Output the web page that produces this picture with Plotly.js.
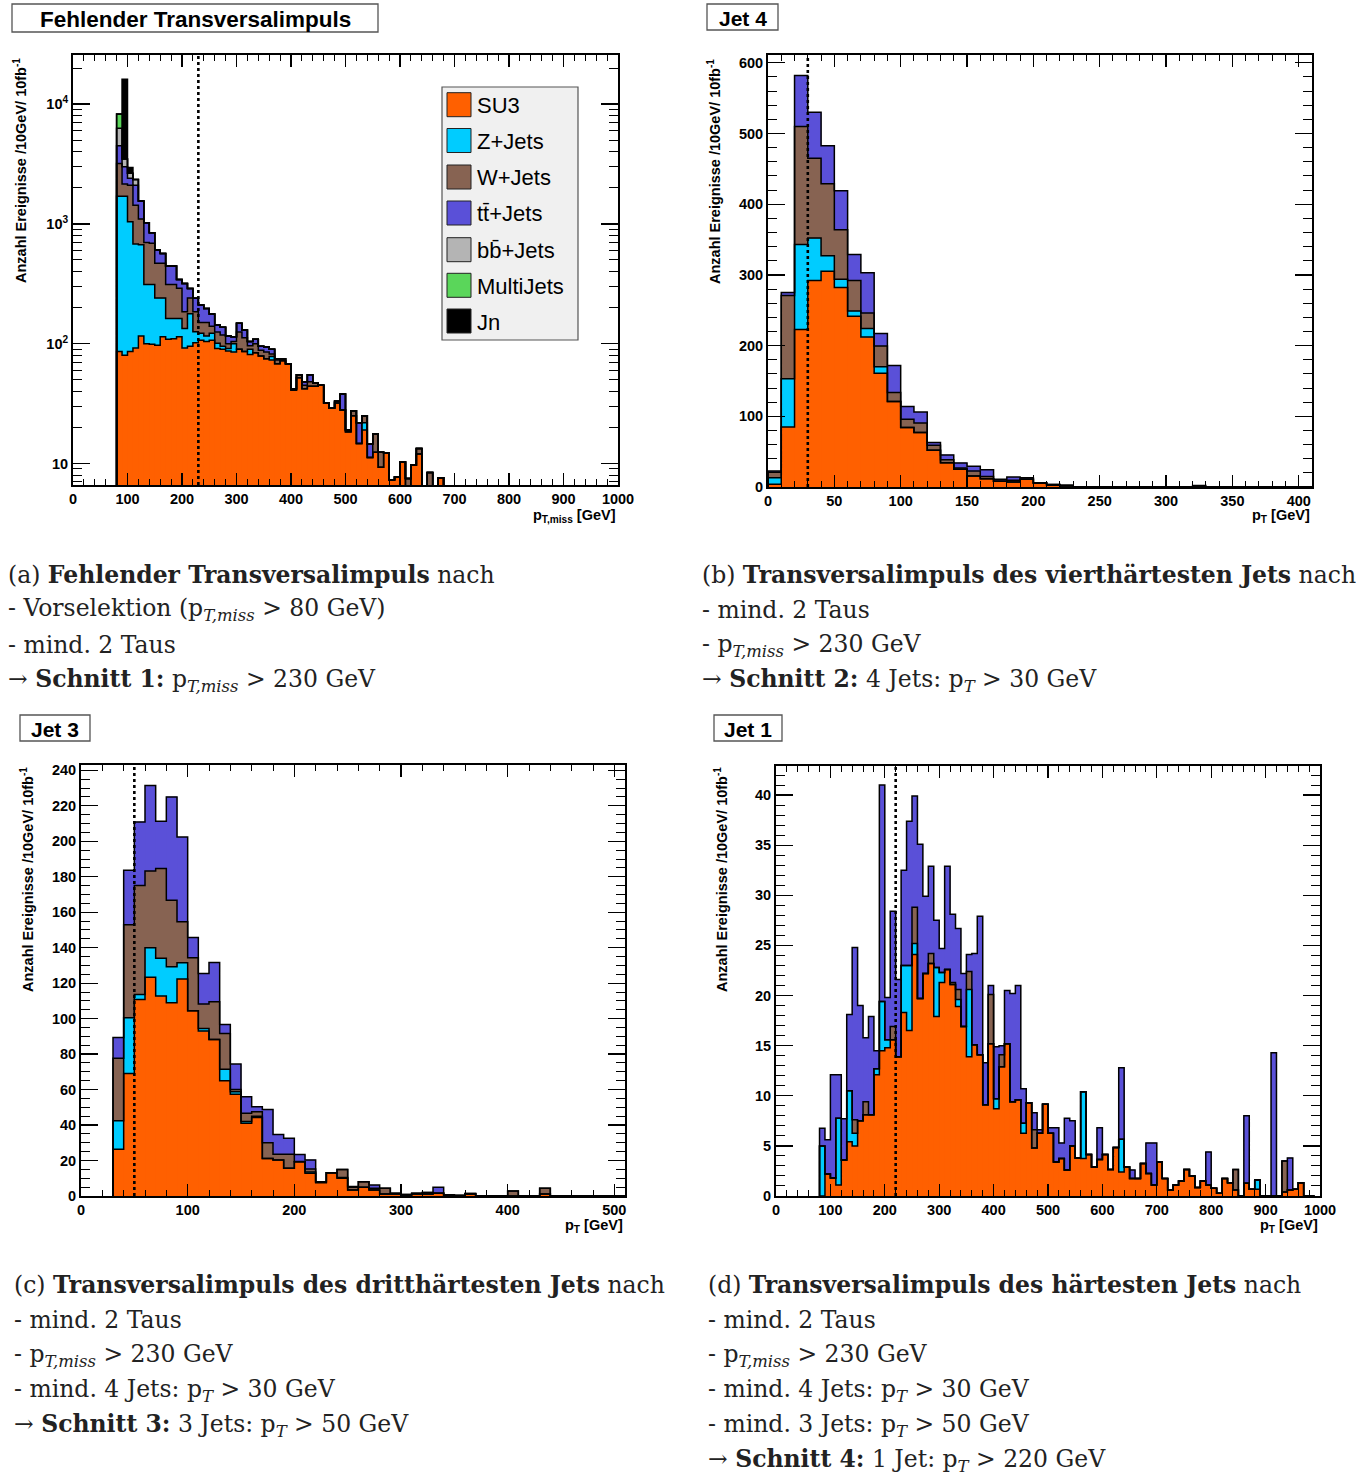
<!DOCTYPE html>
<html><head><meta charset="utf-8">
<script src="https://cdn.plot.ly/plotly-3.0.1.min.js"></script>
<style>html,body{margin:0;padding:0;background:#fff}#chart{width:1368px;height:1475px}</style>
</head><body><div id="chart"></div>
<script>
// ---------- samples ----------
const sampleNames  = ['SU3','Z+Jets','W+Jets','tt\u0304+Jets','bb\u0304+Jets','MultiJets','Jn'];
const sampleColors = ['#ff6000','#00ccff','#876352','#5a50d8','#b4b4b4','#5ad65a','#000000'];

// ---------- (a) missing pT, bins of 10 GeV starting at 80 GeV ----------
const aFirstBin = 80, aBinWidth = 10;
const aSU3 = [86,80,86,92,116,100,99,97,114,109,110,114,92,95,102,107,104,107,91,90,87,85,90,86,81,84,79,75,73,68,72,68,41,52,42,44,44,45,32,29,32,28,18.4,25,14.7,19,11.2,12.4,9.3,12.2,7.3,7.7,10.3,0,9.7,12,0,0,0,7.6];
const aZJ  = [1614,1620,954,588,554,212,213,143,126,53,52,48,42,83,24,15,12,15,10,5,4,15,0,0,9,0,0,0,5,0,0,0,0,0,0,0,0,0,0,0,0,0,0,0,0,2.9,0,0,0,0,0,0,0,0,0,0,0,0,0,0];
const aWJ  = [1500,450,1060,750,430,388,378,230,230,150,150,128,51,62,59,28,34,18,24,23,9,4,35,26,6,16,9,10,4,5,2,0,0,3,3,4,3,0,0,0,1,0,0,2.5,0,3.1,0,5.2,3.1,0,0,0,0,7.5,0,1.3,0,8.4,0,0];
const aTT  = [1300,850,300,670,450,320,153,134,97,132,132,54,133,49,54,60,47,37,18,19,16,10,23,18,8,9,7,9,8,2,1,0,1,0,3,7,0,0,0,0,0,10,0.6,0,7.2,0,3.3,0,0,0,0,0,0,0,0,0,0,0,0,0];
const aBB  = [1800,480,250,250,0,0,0,0,0,0,0,0,0,0,0,0,0,0,0,0,0,0,0,0,0,0,0,0,0,0,0,0,0,0,0,0,0,0,0,0,0,0,0,0,0,0,0,0,0,0,0,0,0,0,0,0,0,0,0,0];
const aMJ  = [1960,0,0,0,0,0,0,0,0,0,0,0,0,0,0,0,0,0,0,0,0,0,0,0,0,0,0,0,0,0,0,0,0,0,0,0,0,0,0,0,0,0,0,0,0,0,0,0,0,0,0,0,0,0,0,0,0,0,0,0];
const aJn  = [0,12670,300,0,0,0,0,0,0,0,0,0,0,0,0,0,0,0,0,0,0,0,0,0,0,0,0,0,0,0,0,0,0,0,0,0,0,0,0,0,0,0,0,0,0,0,0,0,0,0,0,0,0,0,0,0,0,0,0,0];
const aCut = 230;

// ---------- (b) Jet 4 pT, bins from 0 GeV ----------
const bFirstBin = 0, bBinWidth = 10;
const bSU3 = [3.8,85,222.6,292,305,282,241.5,212,161,121,84,77,52,34.4,25,15.6,11.8,8,7,10.8,5.7,2.5,0,0,0,0,0,0,0,0,0,0,0,0,0,0,0,0,0,0,0];
const bZJ  = [9.2,68,120.4,60,22,12,7.5,12,9,0,0,0,0,0,0,0,0,0,0,0,0,0,0,0,0,0,0,0,0,0,0,0,0,0,0,0,0,0,0,0,0];
const bWJ  = [7.8,118,167,113,102,70,43,22,29.5,12.5,11.8,13.6,7,4.3,2,7,3.2,0,2.4,0,0,1,2.5,0,0,0,0,0,0,0,0,0,0,0,0,0,0,0,0,0,0];
const bTT  = [1.8,4,72,65,53.5,55,37,57,17.5,38.2,18.2,15.4,4,6.6,7,6.6,9.5,2.8,4.6,2.2,0,0,0,0,0,0,0,0,0,0,0,0,2.2,0,0,0,0,0,0,0,0];
const bCut = 30;

// ---------- (c) Jet 3 pT, bins from 30 GeV ----------
const cFirstBin = 30, cBinWidth = 10;
const cSU3 = [26.3,69,110.8,123.4,112.7,109,122.4,104.4,93,88.3,65,57.3,41,44.3,21.2,20.3,15.6,19.3,12.8,7.5,13.1,10,3.4,4.9,3.4,1.1,1.1,0.5,1.1,1.1,1.5,0.5,0.3,1.1,0,0,0,0,0,0,1.1,0,0,0,0,0,0,0];
const cZJ  = [16.1,31.5,2.8,16.6,21.3,20.2,9.1,0,1.5,0,6.4,1.5,1,0.7,0,0,0,0,0.8,0.5,0,0.5,0,0,0,0,0,0,0,0,0,0,0,0,0,0,0,0,0,0,0,0,0,0,0,0,0,0];
const cWJ  = [35.2,52.5,61.4,43.3,50.6,37.6,23.1,29.9,13.7,21.2,20.2,1.2,4.6,2.5,8.8,3.2,7.9,0.2,1.6,0,0,4.5,1.5,3.2,0.9,3.2,0.4,0.3,0.4,0.9,0,0,0,0.3,0,0,0,2.8,0,0,3.2,0,0,0,0,0,0,0];
const cTT  = [11.8,30.7,35.9,48.1,26.7,58.2,47.8,11.4,17.2,22.1,5.1,14.4,9.4,2.8,18.8,11.2,9,3.9,5.1,0,0,0,0.4,0,1.9,0,0,0,0,0,3.4,0,0,0,0,0,0,0,0,0,0,0,0,0,0,0,0,0];
const cCut = 50;

// ---------- (d) Jet 1 pT, bins from 80 GeV ----------
const dFirstBin = 80, dBinWidth = 10;
const dSU3 = [0,2.2,1.8,1.1,3.6,5.4,5.0,7.5,8.1,8.1,
  12.1,14.5,14.8,15.6,13.9,18.3,16.5,24.1,19.7,22.2,
  23.2,17.9,21.3,22.6,21.1,18.9,16.9,13.9,15.1,14.1,
  9.1,15.2,8.7,12.9,15.2,9.4,9.6,6.25,9.3,4.8,
  6.25,9.15,6.25,3.4,3.75,2.6,5.0,3.8,3.75,4.15,
  2.9,3.65,4.15,2.65,4.85,2.4,2.9,1.75,1.75,3.25,
  2.25,1.1,3.4,1.75,0.6,1.1,1.5,2.65,2.0,0.86,
  1.5,1.1,0.77,0.27,1.75,1.33,0.6,0,1.26,0.67,
  0.67,0,0,0,0,0.4,0.6,0.67,1.33,0,0];
const dZJ = [5.0,0,0,6.65,0,5.1,1.25,0,0,0,
  0.6,4.9,0.8,0,0,4.7,6.5,1.1,0,0,
  0,4.9,1.0,0,0,0.7,0,6.7,0,0,
  0,0,1.0,0,0,0,0,1.0,0,0,
  0,0,0,0,0,0,0,0,6.65,0,
  0,0,0,0,0,3.25,0,0,0,0,
  0,0,0,0,0,0,0,0,0,0,
  0,0,0,0,0,0,0,0,0,0,
  0.93,0,0,0,0,0,0,0,0,0,0];
const dWJ = [0,0,0,0,0,0,1.35,0,1.3,0,
  0,0,0,1.3,0,0,0,3.6,0,0,
  1.0,0,0,0,0.2,1.0,0,1.8,0,0,
  0,4.9,0,1.2,0,0,0,0,0,1.8,
  0,0,0,0,0,0,0,0,0,0,
  0,0,0,0,0,0,0,0,0,0,
  0,0,0,0,0,0,0,0,0,0,
  0,0,0,0,0,0,2.05,0,0,0,
  0,0,0,0,0,3.1,0,0,0,0,0];
const dTT = [1.75,3.4,10.3,4.35,4.1,7.6,17.2,11.5,6.4,9.8,
  1.8,21.6,4.2,11.5,7.7,9.5,14.4,11.1,15.4,7.7,
  8.7,4.7,2.4,10.3,6.8,6.1,5.3,1.7,9.1,13.8,
  4.2,0.9,5.2,0.9,5.3,10.8,11.4,3.45,0,1.7,
  0.35,0,0.55,3.4,1.55,5.15,2.5,0,0,0,
  0,3.15,0,0,0,7.15,0,0.85,0,0,
  3.05,4.2,0,0,0,0,0,0,0,0,
  0,3.3,0,0,0,0,0,0,6.74,0,
  0,0,0,14.3,0,0,3.2,0,0,0,0];
const dCut = 220;

// ---------- texts ----------
const panelTitles = ['Fehlender Transversalimpuls','Jet 4','Jet 3','Jet 1'];
const yTitle = 'Anzahl Ereignisse /10GeV/ 10fb<sup>-1</sup>';
const xTitles = ['p<sub>T,miss</sub> [GeV]','p<sub>T</sub> [GeV]','p<sub>T</sub> [GeV]','p<sub>T</sub> [GeV]'];
const logTickVals = [10,100,1000,10000];
const logTickText = ['10','10<sup>2</sup>','10<sup>3</sup>','10<sup>4</sup>'];
const capA = ['(a) <b>Fehlender Transversalimpuls</b> nach',
  '- Vorselektion (p<sub><i>T,miss</i></sub> &gt; 80 GeV)',
  '- mind. 2 Taus',
  '\u2192 <b>Schnitt 1:</b> p<sub><i>T,miss</i></sub> &gt; 230 GeV'];
const capB = ['(b) <b>Transversalimpuls des vierthärtesten Jets</b> nach',
  '- mind. 2 Taus',
  '- p<sub><i>T,miss</i></sub> &gt; 230 GeV',
  '\u2192 <b>Schnitt 2:</b> 4 Jets: p<sub><i>T</i></sub> &gt; 30 GeV'];
const capC = ['(c) <b>Transversalimpuls des dritthärtesten Jets</b> nach',
  '- mind. 2 Taus',
  '- p<sub><i>T,miss</i></sub> &gt; 230 GeV',
  '- mind. 4 Jets: p<sub><i>T</i></sub> &gt; 30 GeV',
  '\u2192 <b>Schnitt 3:</b> 3 Jets: p<sub><i>T</i></sub> &gt; 50 GeV'];
const capD = ['(d) <b>Transversalimpuls des härtesten Jets</b> nach',
  '- mind. 2 Taus',
  '- p<sub><i>T,miss</i></sub> &gt; 230 GeV',
  '- mind. 4 Jets: p<sub><i>T</i></sub> &gt; 30 GeV',
  '- mind. 3 Jets: p<sub><i>T</i></sub> &gt; 50 GeV',
  '\u2192 <b>Schnitt 4:</b> 1 Jet: p<sub><i>T</i></sub> &gt; 220 GeV'];

// ---------- helpers ----------
const W = 1368, H = 1475;
const px = v => v / W;
const py = v => 1 - v / H;
const SANS = 'Liberation Sans, Arial, Helvetica, sans-serif';
const SERIF = 'DejaVu Serif, Liberation Serif, serif';

const traces = [];
function addPanel(xa, ya, first, width, comps, floorVal) {
  const n = comps[0].length;
  const centers = [], edges = [];
  for (let i = 0; i <= n; i++) edges.push(first + width * i);
  for (let i = 0; i < n; i++) centers.push(first + width * (i + 0.5));
  let cum = new Array(n).fill(0);
  const cums = [];
  comps.forEach((vals, k) => {
    traces.push({type:'bar', x:centers, y:vals, width:width, xaxis:xa, yaxis:ya,
      name:sampleNames[k], showlegend:false, hoverinfo:'skip',
      marker:{color:sampleColors[k], line:{color:sampleColors[k], width:0.4}}});
    cum = cum.map((c, i) => c + vals[i]);
    cums.push(cum.slice());
  });
  cums.forEach(c => {
    const xs = [edges[0]], ys = [floorVal];
    for (let i = 0; i < n; i++) { xs.push(edges[i]); ys.push(c[i] > 0 ? c[i] : floorVal); }
    xs.push(edges[n]); ys.push(c[n-1] > 0 ? c[n-1] : floorVal);
    xs.push(edges[n]); ys.push(floorVal);
    traces.push({type:'scatter', mode:'lines', x:xs, y:ys, xaxis:xa, yaxis:ya,
      showlegend:false, hoverinfo:'skip', line:{shape:'hv', color:'#000', width:1.5}});
  });
}
addPanel('x','y', aFirstBin, aBinWidth, [aSU3,aZJ,aWJ,aTT,aBB,aMJ,aJn], 1);
addPanel('x2','y2', bFirstBin, bBinWidth, [bSU3,bZJ,bWJ,bTT], 0);
addPanel('x3','y3', cFirstBin, cBinWidth, [cSU3,cZJ,cWJ,cTT], 0);
addPanel('x4','y4', dFirstBin, dBinWidth, [dSU3,dZJ,dWJ,dTT], 0);

const tickFont = {family:SANS, size:14.5, color:'#000', weight:'bold'};
function xAxis(x0, x1, y, range, dtick, minor, anchor) {
  return {domain:[px(x0), px(x1)], anchor:anchor, range:range, tickmode:'linear', tick0:0, dtick:dtick,
    ticks:'inside', ticklen:12, tickwidth:1.3, tickcolor:'#000',
    minor:{dtick:minor, tick0:0, ticks:'inside', ticklen:6, tickwidth:1, tickcolor:'#000', showgrid:false},
    showline:true, linecolor:'#000', linewidth:2, mirror:'ticks', showgrid:false, zeroline:false,
    tickfont:tickFont, fixedrange:true};
}
function yAxis(y0, y1, range, dtick, minor, anchor) {
  return {domain:[py(y1), py(y0)], anchor:anchor, range:range, tickmode:'linear', tick0:0, dtick:dtick,
    ticks:'inside', ticklen:17, tickwidth:1.3, tickcolor:'#000',
    minor:{dtick:minor, tick0:0, ticks:'inside', ticklen:9, tickwidth:1, tickcolor:'#000', showgrid:false},
    showline:true, linecolor:'#000', linewidth:2, mirror:'ticks', showgrid:false, zeroline:false,
    tickfont:tickFont, fixedrange:true};
}
const minorLog = [];
[1,10,100,1000,10000].forEach(d => [2,3,4,5,6,7,8,9].forEach(m => minorLog.push(m*d)));

const layout = {
  width:W, height:H, margin:{l:0,r:0,t:0,b:0}, paper_bgcolor:'#fff', plot_bgcolor:'#fff',
  barmode:'stack', bargap:0, showlegend:false, font:{family:SANS, color:'#000'},
  xaxis: xAxis(73,618,0,[0,1000],100,20,'y'),
  yaxis: Object.assign(yAxis(55,485,[0.82,4.41],1,1,'x'), {type:'log', tickmode:'array',
    tickvals:logTickVals, ticktext:logTickText,
    minor:{tickmode:'array', tickvals:minorLog, ticks:'inside', ticklen:9, tickwidth:1, tickcolor:'#000', showgrid:false}}),
  xaxis2: xAxis(768,1312,0,[0,410],50,10,'y2'),
  yaxis2: yAxis(55,487,[0,611],100,20,'x2'),
  xaxis3: xAxis(81,625,0,[0,510],100,20,'y3'),
  yaxis3: yAxis(765,1196,[0,243],20,5,'x3'),
  xaxis4: xAxis(776,1320,0,[0,1000],100,20,'y4'),
  yaxis4: yAxis(766,1196,[0,42.9],5,1,'x4'),
  shapes:[], annotations:[]
};

// cut lines
[['x','y',aCut],['x2','y2',bCut],['x3','y3',cCut],['x4','y4',dCut]].forEach(([xr,yr,c]) => {
  layout.shapes.push({type:'line', xref:xr, yref:yr+' domain', x0:c, x1:c, y0:0, y1:1,
    line:{color:'#000', width:2.6, dash:'dot'}});
});

// title boxes
const titleBoxes = [[12,4,378,32],[707,4,778,30],[20,715,90,741],[714,715,782,741]];
titleBoxes.forEach((b, i) => {
  layout.shapes.push({type:'rect', xref:'paper', yref:'paper', x0:px(b[0]), x1:px(b[2]), y0:py(b[3]), y1:py(b[1]),
    line:{color:'#555', width:1.3}, fillcolor:'#fff', layer:'above'});
  layout.annotations.push({xref:'paper', yref:'paper', x:px((b[0]+b[2])/2), y:py((b[1]+b[3])/2+1),
    xanchor:'center', yanchor:'middle', showarrow:false, text:panelTitles[i],
    font:{family:SANS, size:(i === 0 ? 22.5 : 21), color:'#000', weight:'bold'}});
});

// y titles
[[20,171],[714,171],[27,880],[721,880]].forEach(p => {
  layout.annotations.push({xref:'paper', yref:'paper', x:px(p[0]), y:py(p[1]), xanchor:'center', yanchor:'middle',
    textangle:-90, showarrow:false, text:yTitle, font:{family:SANS, size:14.5, color:'#000', weight:'bold'}});
});
// x titles
[[618,516],[1312,516],[625,1226],[1320,1226]].forEach((p, i) => {
  layout.annotations.push({xref:'paper', yref:'paper', x:px(p[0]), y:py(p[1]), xanchor:'right', yanchor:'middle',
    showarrow:false, text:xTitles[i], font:{family:SANS, size:14.5, color:'#000', weight:'bold'}});
});

// legend (panel a)
layout.shapes.push({type:'rect', xref:'paper', yref:'paper', x0:px(442), x1:px(578), y0:py(340), y1:py(87),
  line:{color:'#555', width:1.2}, fillcolor:'#f0f0f0', layer:'above'});
const legRows = [104.7,140.5,177,213,249.7,285.3,321];
sampleNames.forEach((nm, k) => {
  const cy = legRows[k];
  layout.shapes.push({type:'rect', xref:'paper', yref:'paper', x0:px(447), x1:px(471), y0:py(cy+12), y1:py(cy-12),
    line:{color:'#222', width:1}, fillcolor:sampleColors[k], layer:'above'});
  layout.annotations.push({xref:'paper', yref:'paper', x:px(475), y:py(cy+1), xanchor:'left', yanchor:'middle',
    showarrow:false, text:nm, font:{family:SANS, size:22, color:'#000'}});
});

// captions
function addCaption(lines, x, y0) {
  lines.forEach((t, i) => {
    layout.annotations.push({xref:'paper', yref:'paper', x:px(x), y:py(y0 + 35*i), xanchor:'left', yanchor:'middle',
      showarrow:false, text:t, font:{family:SERIF, size:23.5, color:'#222'}});
  });
}
addCaption(capA, 6, 575);
addCaption(capB, 700, 575);
addCaption(capC, 12, 1285);
addCaption(capD, 706, 1285);

Plotly.newPlot('chart', traces, layout, {staticPlot:true, displayModeBar:false});
</script>
</body></html>
